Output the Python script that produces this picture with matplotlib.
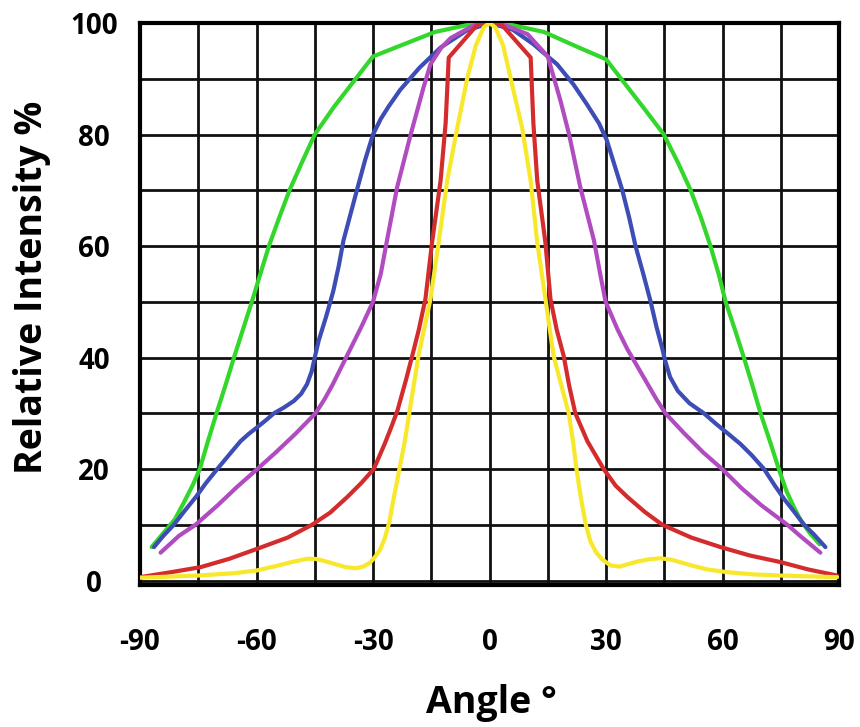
import matplotlib.pyplot as plt
import numpy as np

plt.rcParams['font.family'] = ['Open Sans', 'DejaVu Sans']
plt.rcParams['font.weight'] = 'bold'
plt.rcParams['axes.unicode_minus'] = False

# angle (deg) / relative intensity (%)
green_x = [-87, -84, -81, -78.7, -76.5, -74.6, -72.5, -70.3, -68, -65.8, -63.5, -61.2, -59,
           -56.8, -54.2, -51.5, -48.3, -45, -40, -35, -30, -22, -14, -6, 0,
           6, 14, 23, 30, 35, 40, 44.9, 48.5, 51.8, 54.5, 56.9, 59, 60.8, 63.2, 65.5, 67.7,
           69.8, 72.2, 74.5, 76.5, 78.5, 80, 82.5, 85]
green_y = [6, 8.5, 11, 14, 17, 20, 25, 30, 35, 40, 45, 50, 55,
           60, 65, 70, 75, 80, 85, 89.5, 94, 96.2, 98.4, 99.6, 100,
           99.6, 98.4, 95.6, 93.5, 89, 84.5, 80, 75, 70, 65, 60, 55, 50, 45, 40, 35,
           30, 25, 20, 16, 13, 11, 8.5, 6.5]

blue_x = [-86.4, -84, -81.3, -78.5, -75.6, -73, -70.1, -67, -64.1, -62, -59.8, -57.5, -55.5,
          -53, -50.4, -48.5, -47, -45.8, -45, -44, -42, -40.2, -38.8, -37.6, -35.8, -34, -32,
          -30, -28, -26, -23, -18, -12.6, -6, 0,
          6, 11.3, 15, 17.4, 21.6, 25, 28.2, 30.2, 32.2, 34.2, 36, 37.6, 39.6, 41.5, 43, 44.5,
          45.2, 46.5, 48.5, 51.5, 55.2, 58.5, 61.5, 64.6, 67.5, 70.7, 73.5, 76, 78.5, 81, 83.5,
          86.5]
blue_y = [6, 8, 10, 12.5, 15, 17.5, 20, 22.6, 25, 26.3, 27.5, 28.8, 30,
          31, 32.2, 33.5, 35.2, 37.5, 40, 43, 47.5, 52, 56.5, 61, 65.7, 70.4, 75.5,
          80, 82.8, 85, 88, 92, 95.6, 98.6, 100,
          98.8, 96.2, 94, 92.6, 89, 85.5, 82, 79, 74.5, 70, 65, 60, 55, 50, 45.5, 41.6,
          39.5, 36.5, 34, 31.8, 30, 28, 26.3, 24.5, 22.5, 20, 17, 14.5, 12.3, 10, 8.3,
          6]

purple_x = [-84.7, -80, -75.7, -70, -65, -59.8, -55, -50, -44.8, -42.5, -40.5, -38, -35.5,
            -33, -30, -28, -26.4, -23.8, -20.3, -17, -15.2, -12.5, -10, -4, 0,
            4, 9.8, 15, 18.3, 20.5, 23.4, 26.9, 28.5, 29.9, 33, 35.5, 38, 40.5, 43,
            45.3, 50, 55, 59.9, 65, 70, 76.7, 80, 85.2]
purple_y = [5, 8, 10, 13.5, 16.8, 20, 23, 26.3, 30, 32.5, 35, 38.5, 42,
            45.5, 50, 55, 61, 70.5, 80, 88.4, 92.6, 95.5, 97.3, 99.6, 100,
            99.6, 98, 94, 86, 80, 70.5, 61, 55, 50, 45, 41.5, 38.5, 35.5, 32.5,
            30, 26.5, 23, 20, 16.5, 13.5, 10, 8, 5]

red_x = [-90, -82, -74.4, -67, -59.8, -52, -45.7, -41, -36.6, -33, -29.8, -27, -25.3, -23.7,
         -21.5, -19.9, -18.2, -16.5, -14.8, -12.6, -11.3, -10.5, -3, 0,
         3, 10.6, 11.3, 12.3, 14.4, 15.7, 17.3, 19.1, 20.5, 22.1, 25.2, 29.4, 32.5,
         35.5, 40, 44.5, 52, 59.5, 67, 75, 82, 89.5]
red_y = [0.6, 1.5, 2.4, 3.9, 5.7, 7.7, 10, 12.2, 15, 17.5, 20, 24.5, 27.5, 30.5,
         36, 40.3, 45, 50.5, 60.6, 71.7, 82, 93.8, 99.8, 100,
         99.8, 93.8, 82, 71.7, 60.6, 50.5, 45, 40.3, 35, 30, 25, 20, 17,
         15, 12.3, 10, 7.7, 6, 4.5, 3.3, 2.0, 0.9]

yellow_x = [-90, -75, -66, -60, -55, -51, -47, -45, -42.5, -40, -37, -34.5, -32.5, -30.8,
            -29.5, -28.2, -27, -25.8, -24.6, -23.2, -21.8, -20.2, -18.3, -15.2, -13.1, -10.9,
            -8.3, -5.7, -3.5, -1.5, 0,
            1.5, 3.5, 5.4, 8.4, 10.6, 12.3, 14.4, 16.5, 18.5, 20.4, 21.5, 22.4, 23.5, 24.8,
            26, 27.5, 29, 31.2, 33.5, 35.5, 38, 41, 44, 47, 52.6, 56, 61.2, 68, 75, 89.5]
yellow_y = [0.5, 0.9, 1.3, 1.8, 2.6, 3.3, 3.9, 3.9, 3.5, 3.0, 2.4, 2.2, 2.5, 3.2,
            4.2, 5.5, 7.5, 10.5, 15, 20, 25, 32, 40.3, 50.5, 60.6, 71.7,
            81.2, 90.2, 96, 99.2, 100,
            99.2, 96, 90.2, 81.2, 71.7, 60.6, 50.5, 40.3, 35, 30, 25, 20, 15, 10,
            7, 5, 3.8, 2.7, 2.5, 2.9, 3.4, 3.8, 4.0, 3.7, 2.6, 2.0, 1.5, 1.1, 0.9, 0.6]

x_labels = ['-90', '-60', '-30', '0', '30', '60', '90']
y_labels = ['0', '20', '40', '60', '80', '100']

fig = plt.figure(figsize=(8.6, 7.27), dpi=100)
ax = fig.add_axes([140 / 860, 1 - 585 / 727, 699 / 860, 562 / 727])

lw = 3.0
ax.plot(green_x, green_y, color='#33d62a', lw=lw, solid_capstyle='round', zorder=3)
ax.plot(blue_x, blue_y, color='#3d4db5', lw=lw, solid_capstyle='round', zorder=3)
ax.plot(purple_x, purple_y, color='#b04cc0', lw=lw, solid_capstyle='round', zorder=3)
ax.plot(red_x, red_y, color='#d42c2c', lw=lw, solid_capstyle='round', zorder=3)
ax.plot(yellow_x, yellow_y, color='#f8e82c', lw=lw, solid_capstyle='round', zorder=3)

ax.set_xlim(-90, 90)
ax.set_ylim(-0.8, 100)
ax.set_xticks(np.arange(-90, 91, 30))
ax.set_xticklabels(x_labels)
ax.set_xticks(np.arange(-90, 91, 15), minor=True)
ax.set_yticks(np.arange(0, 101, 20))
ax.set_yticklabels(y_labels)
ax.set_yticks(np.arange(0, 101, 10), minor=True)
ax.grid(which='both', color='#111111', lw=2.0)
ax.set_axisbelow(True)

ax.tick_params(which='both', length=0)
ax.tick_params(axis='x', pad=31, labelsize=20)
ax.tick_params(axis='y', pad=33, labelsize=20)

for s in ax.spines.values():
    s.set_linewidth(3)
    s.set_color('#000000')

fig.text(492 / 860, 1 - 703 / 727, 'Angle °', ha='center', va='center',
         fontsize=27, fontweight='bold')
fig.text(32 / 860, 1 - 287 / 727, 'Relative Intensity %', ha='center', va='center',
         rotation=90, fontsize=27, fontweight='bold')

fig.canvas.draw()
for t in ax.get_yticklabels():
    t.set_horizontalalignment('center')
for t in ax.get_xticklabels() + ax.get_yticklabels():
    t.set_fontweight('bold')

fig.savefig('out.png', dpi=100, facecolor='white')
